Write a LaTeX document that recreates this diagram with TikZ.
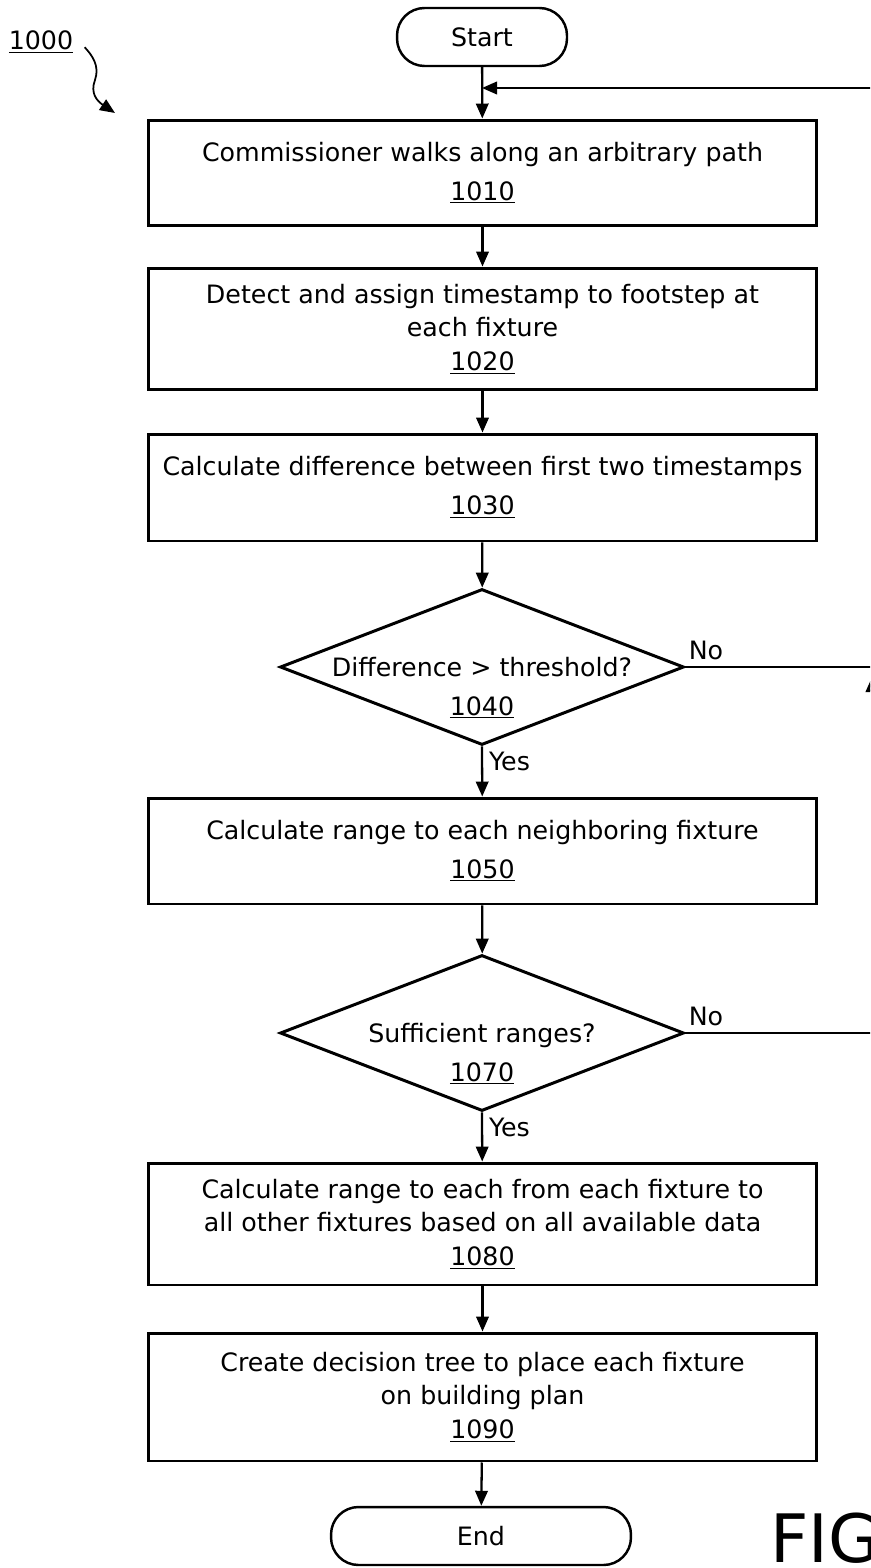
\documentclass[tikz,border=0pt]{standalone}
\usepackage{fontspec}
\setmainfont{DejaVu Sans}
\usetikzlibrary{shapes.geometric,arrows.meta,calc}

\tikzset{
  stepbox/.style={draw, line width=1.7pt, minimum width=13.38cm, minimum height=2.12cm, align=center, inner sep=2pt},
  decision/.style={draw, diamond, line width=1.7pt, minimum width=8.08cm, minimum height=3.12cm, inner sep=0pt},
  terminal/.style={draw, line width=1.4pt, rounded corners=0.55cm, minimum height=1.16cm},
  flow/.style={line width=1.3pt, -{Triangle[length=0.3cm,width=0.25cm]}},
}

\begin{document}
\begin{tikzpicture}[x=0.02cm, y=-0.02cm, font=\fontsize{14.4}{19}\selectfont]
    \clip (0,0) rectangle (870,1568);

    % Reference label
    \node (lbl1000) at (41,42) {\underline{1000}};
    \draw[flow, line width=1pt] ([xshift=3pt,yshift=-3pt]lbl1000.east) .. controls (92,55) and (100,66) .. (95,80) .. controls (90,93) and (97,101) .. (115,113);

    % Terminals
    \node[terminal, minimum width=3.4cm] (start) at (482,37) {Start};
    \node[terminal, minimum width=6cm] (end) at (481,1536) {End};

    % Process steps
    \node[stepbox] (b1010) at (482.5,173) {Commissioner walks along an arbitrary path\\[3pt] \underline{1010}};
    \node[stepbox, minimum height=2.44cm] (b1020) at (482.5,329) {Detect and assign timestamp to footstep at\\ each fixture\\ \underline{1020}};
    \node[stepbox, minimum height=2.14cm] (b1030) at (482.5,487.5) {Calculate difference between first two timestamps\\[3pt] \underline{1030}};
    \node[decision] (d1040) at (482,667) {};
    \node[align=center] (q1040) at ($(d1040)+(0,21)$) {Difference > threshold?\\[3pt] \underline{1040}};
    \node[stepbox] (b1050) at (482.5,851) {Calculate range to each neighboring fixture\\[3pt] \underline{1050}};
    \node[decision] (d1070) at (482,1033) {};
    \node[align=center] (q1070) at ($(d1070)+(0,21)$) {Sufficient ranges?\\[3pt] \underline{1070}};
    \node[stepbox, minimum height=2.44cm] (b1080) at (482.5,1224) {Calculate range to each from each fixture to\\ all other fixtures based on all available data\\ \underline{1080}};
    \node[stepbox, minimum height=2.56cm] (b1090) at (482.5,1397) {Create decision tree to place each fixture\\ on building plan\\ \underline{1090}};

    \node[anchor=west, font=\fontsize{38}{42}\selectfont] (fig) at (764,1538) {FIG};

    % Loop back rail (runs past the right edge)
    \coordinate (rail) at (872,88);
    \coordinate (join) at (482,88);

    % Connectors
    \draw[flow] (start) -- (b1010);
    \draw[flow] (b1010) -- (b1020);
    \draw[flow] (b1020) -- (b1030);
    \draw[flow] (b1030) -- (d1040);
    \draw[flow] (d1040.south) -- node[right, pos=0.3] {Yes} (b1050);
    \draw[flow] (b1050) -- (d1070);
    \draw[flow] (d1070.south) -- node[right, pos=0.3] {Yes} (b1080);
    \draw[flow] (b1080) -- (b1090);
    \draw[flow] (b1090) -- (end);

    \draw[flow] (d1040.east) -- node[above, pos=0.11] {No} (d1040.east -| rail) -- (rail) -- (join);
    \draw[flow] (d1070.east) -- node[above, pos=0.11] {No} (d1070.east -| rail) -- ([yshift=-0.2cm]d1040.east -| rail);
\end{tikzpicture}
\end{document}
